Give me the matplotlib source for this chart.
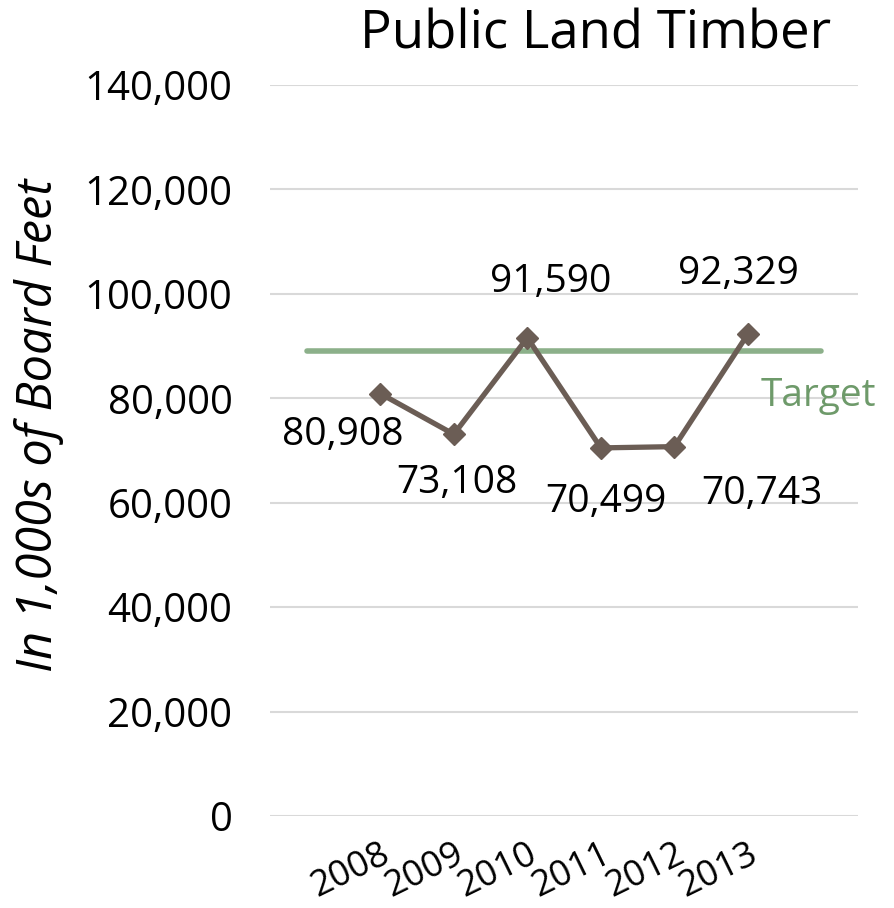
import matplotlib
matplotlib.use("Agg")
import matplotlib.pyplot as plt
from matplotlib.ticker import FuncFormatter

years = ["2008", "2009", "2010", "2011", "2012", "2013"]
timber = [80908, 73108, 91590, 70499, 70743, 92329]
target = 89000
y_ticks = [0, 20000, 40000, 60000, 80000, 100000, 120000, 140000]

plt.rcParams['font.family'] = ['Open Sans', 'DejaVu Sans']

fig = plt.figure(figsize=(8.94, 9.08), dpi=100)
ax = fig.add_axes([0.302, 0.1013, 0.658, 0.8051])

x = list(range(len(years)))
ax.set_xlim(-1.5, 6.5)
ax.set_ylim(0, 140000)
ax.set_yticks(y_ticks)
ax.yaxis.set_major_formatter(FuncFormatter(lambda v, p: f"{int(v):,}"))
ax.grid(axis='y', color='#D9D9D9', linewidth=1.5)
ax.set_axisbelow(True)
for s in ax.spines.values():
    s.set_visible(False)
ax.tick_params(axis='y', length=0, pad=27, labelsize=29)
ax.tick_params(axis='x', length=0, pad=15)

ax.plot([-1, 6], [target, target], color='#8CB08A', linewidth=4, solid_capstyle='round')
ax.text(5.96, 80500, "Target", color='#6E9A6A', fontsize=28, ha='center', va='center')

ax.plot(x, timber, color='#6B5D55', linewidth=3.8, marker='D', markersize=11, zorder=3)

offsets = [(-27, -30), (2, -35), (17, 40), (4, -39), (63, -34), (-7, 43)]
for xi, v, off in zip(x, timber, offsets):
    ax.annotate(f"{v:,}", (xi, v), xytext=off, textcoords='offset points',
                ha='center', va='center', fontsize=28, color='black')

ax.set_xticks(x)
ax.set_xticklabels(years, rotation=26, ha='right', va='top', rotation_mode='anchor', fontsize=26)

ax.set_ylabel("In 1,000s of Board Feet", fontsize=35, style='italic')
ax.yaxis.set_label_coords(-0.35, 0.535)
fig.text(0.666, 0.9615, "Public Land Timber", fontsize=38, ha='center', va='center')

fig.savefig("out.png", dpi=100)
